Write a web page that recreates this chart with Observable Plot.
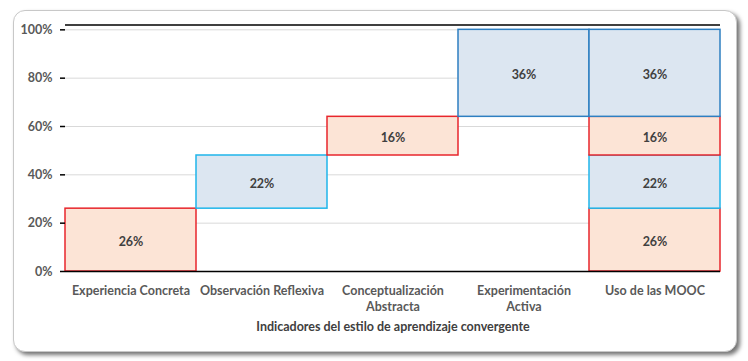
<!DOCTYPE html>
<html>
<head>
<meta charset="utf-8">
<script src="https://cdn.jsdelivr.net/npm/d3@7"></script>
<script src="https://cdn.jsdelivr.net/npm/@observablehq/plot@0.6"></script>
<style>
  html, body { margin: 0; padding: 0; background: #ffffff; }
  #wrap { position: relative; width: 748px; height: 361px; overflow: hidden; }
  #frame {
    position: absolute; left: 13px; top: 10px; width: 722px; height: 340px;
    border: 1px solid #c8c8c8; border-radius: 12px; background: #ffffff;
    box-shadow: 3px 3px 4px rgba(0,0,0,0.55);
  }
  #chart { position: absolute; left: 0; top: 0; }
</style>
</head>
<body>
<div id="wrap"><div id="frame"></div><div id="chart"></div></div>
<script>
const categories = ["Experiencia Concreta", "Observación Reflexiva", "Conceptualización Abstracta", "Experimentación Activa", "Uso de las MOOC"];
const tickLabels = ["Experiencia Concreta", "Observación Reflexiva", "Conceptualización\nAbstracta", "Experimentación\nActiva", "Uso de las MOOC"];
const values = [26, 22, 16, 36];
const kinds = ["orange", "cyan", "orange", "blue"];
const yTicks = [0, 20, 40, 60, 80, 100];
const axisTitle = "Indicadores del estilo de aprendizaje convergente";
const totalCategory = "Uso de las MOOC";

const fills = {orange: "#fce4d6", cyan: "#dce6f1", blue: "#dce6f1"};
const strokes = {orange: "#e8262c", cyan: "#1fb5ea", blue: "#2e7fc1"};

const rows = [];
let acc = 0;
values.forEach((v, i) => {
  const y1 = acc, y2 = acc + v;
  rows.push({cat: categories[i], y1, y2, v, kind: kinds[i]});
  rows.push({cat: totalCategory, y1, y2, v, kind: kinds[i]});
  acc = y2;
});

const font = "Lato, 'Open Sans', sans-serif";
const chart = Plot.plot({
  width: 748,
  height: 361,
  marginLeft: 65,
  marginRight: 28,
  marginTop: 24.5,
  marginBottom: 90,
  style: {fontFamily: font, fontSize: "12.5px", color: "#595959", background: "transparent"},
  x: {domain: categories, padding: 0, axis: null},
  y: {domain: [0, 102], axis: null},
  marks: [
    Plot.gridY(yTicks, {stroke: "#d9d9d9", strokeOpacity: 1, strokeWidth: 1}),
    Plot.barY(rows, {
      x: "cat", y1: "y1", y2: "y2",
      fill: d => fills[d.kind], stroke: d => strokes[d.kind], strokeWidth: 1.5,
      inset: 0
    }),
    Plot.text(rows, {
      x: "cat", y: d => (d.y1 + d.y2) / 2, text: d => d.v + "%", dy: 2,
      fill: "#404040", fontWeight: "bold", fontSize: 12.5
    }),
    Plot.ruleY([0], {stroke: "#000000", strokeWidth: 1.5}),
    Plot.ruleY([102], {stroke: "#404040", strokeWidth: 2}),
    Plot.axisY(yTicks, {
      tickFormat: d => d + "%", tickSize: 5, tickPadding: 8, line: true,
      stroke: "#000000", strokeWidth: 1.5, label: null, fontWeight: "bold", fill: "#595959"
    }),
    Plot.text(categories, {
      x: d => d, frameAnchor: "bottom", lineAnchor: "top", dy: 12, lineHeight: 1.3,
      text: (d, i) => tickLabels[i], fill: "#595959", fontWeight: "bold", fontSize: 12.5
    }),
    Plot.text([axisTitle], {
      frameAnchor: "bottom", dy: 59, text: d => d, fill: "#404040",
      fontWeight: "bold", fontSize: 12.5
    })
  ]
});
document.getElementById("chart").appendChild(chart);
</script>
</body>
</html>
